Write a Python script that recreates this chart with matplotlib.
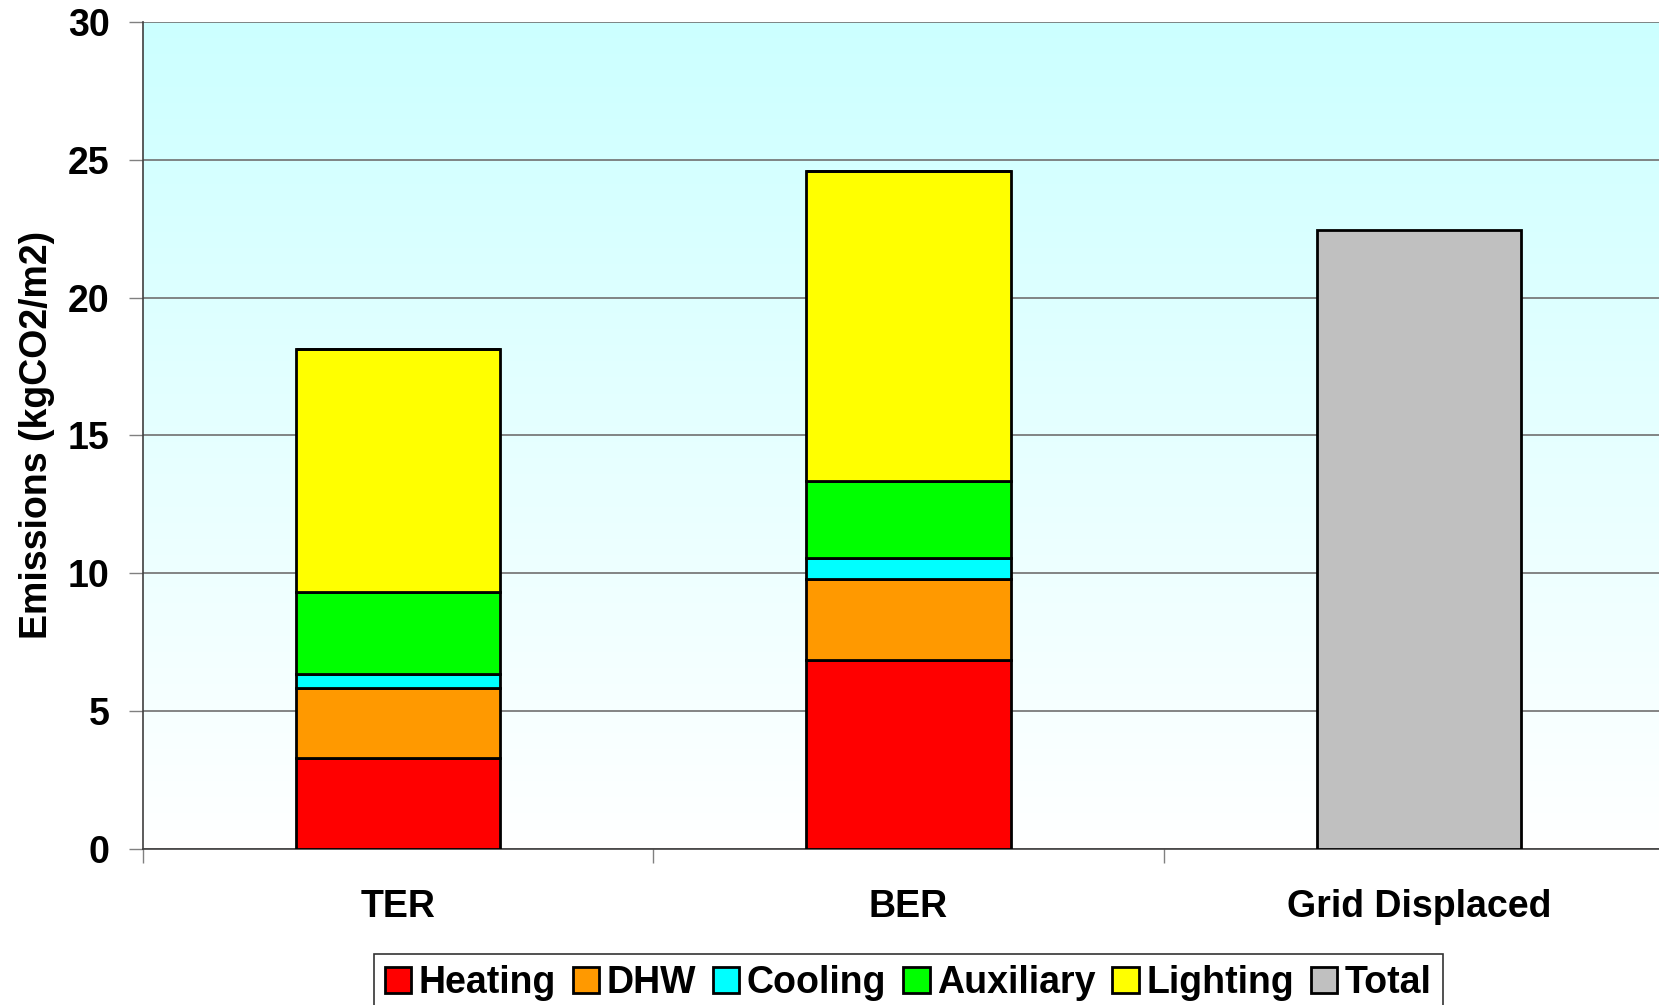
import numpy as np
import matplotlib
matplotlib.use('Agg')
import matplotlib.pyplot as plt
from matplotlib.colors import LinearSegmentedColormap

plt.rcParams['font.family'] = ['Liberation Sans', 'DejaVu Sans']
plt.rcParams['font.weight'] = 'bold'
plt.rcParams['axes.labelweight'] = 'bold'

categories = ['TER', 'BER', 'Grid Displaced']
series_names = ['Heating', 'DHW', 'Cooling', 'Auxiliary', 'Lighting', 'Total']
heating = [3.30, 6.84, 0.0]
dhw = [2.54, 2.96, 0.0]
cooling = [0.50, 0.73, 0.0]
auxiliary = [2.99, 2.80, 0.0]
lighting = [8.80, 11.26, 0.0]
total = [0.0, 0.0, 22.44]
colors = ['#FF0000', '#FF9900', '#00FFFF', '#00FF00', '#FFFF00', '#C0C0C0']
y_ticks = [0, 5, 10, 15, 20, 25, 30]


def main():
    fig = plt.figure(figsize=(16.59, 10.05), dpi=100)
    ax = fig.add_axes([0.0861, 0.1557, 0.9231, 0.8222])

    # gradient background: light cyan at top fading to white
    grad = np.linspace(0, 1, 256).reshape(-1, 1)
    cmap = LinearSegmentedColormap.from_list('bg', ['#FFFFFF', '#CCFFFF'])
    ax.imshow(grad, aspect='auto', cmap=cmap, origin='lower',
              extent=[-0.5, 2.5, 0, 30], zorder=0)

    x = np.arange(len(categories))
    values = [heating, dhw, cooling, auxiliary, lighting, total]
    bottom = np.zeros(len(categories))
    for name, vals, col in zip(series_names, values, colors):
        ax.bar(x, vals, width=0.4, bottom=bottom, color=col,
               edgecolor='black', linewidth=2.0, label=name, zorder=3)
        bottom += np.array(vals)

    ax.set_xlim(-0.5, 2.5)
    ax.set_ylim(0, 30)
    ax.set_yticks(y_ticks)
    ax.yaxis.grid(True, color='#707070', linewidth=1.2, zorder=1)
    ax.set_axisbelow(True)

    ax.set_xticks(x)
    ax.set_xticklabels(categories)
    ax.set_xticks([-0.5, 0.5, 1.5], minor=True)
    ax.tick_params(axis='x', which='major', length=0, pad=29, labelsize=27)
    ax.tick_params(axis='x', which='minor', length=10, width=1, color='#808080')
    ax.tick_params(axis='y', length=10, width=1, color='#808080',
                   labelsize=27, pad=14)

    ax.set_ylabel('Emissions (kgCO2/m2)', fontsize=27, labelpad=9)

    for s in ['top', 'right']:
        ax.spines[s].set_visible(False)
    ax.spines['left'].set_color('#404040')
    ax.spines['bottom'].set_color('#404040')
    ax.spines['left'].set_linewidth(1.2)
    ax.spines['bottom'].set_linewidth(1.2)

    leg = fig.legend(loc='upper center', bbox_to_anchor=(0.5475, 0.051),
                     ncol=6, fontsize=27, frameon=True, fancybox=False,
                     handlelength=0.7, handleheight=0.7, handletextpad=0.2,
                     columnspacing=0.45, borderpad=0.3, borderaxespad=0)
    leg.get_frame().set_edgecolor('black')
    leg.get_frame().set_linewidth(1.2)

    fig.savefig('out.png', dpi=100)


if __name__ == '__main__':
    main()
